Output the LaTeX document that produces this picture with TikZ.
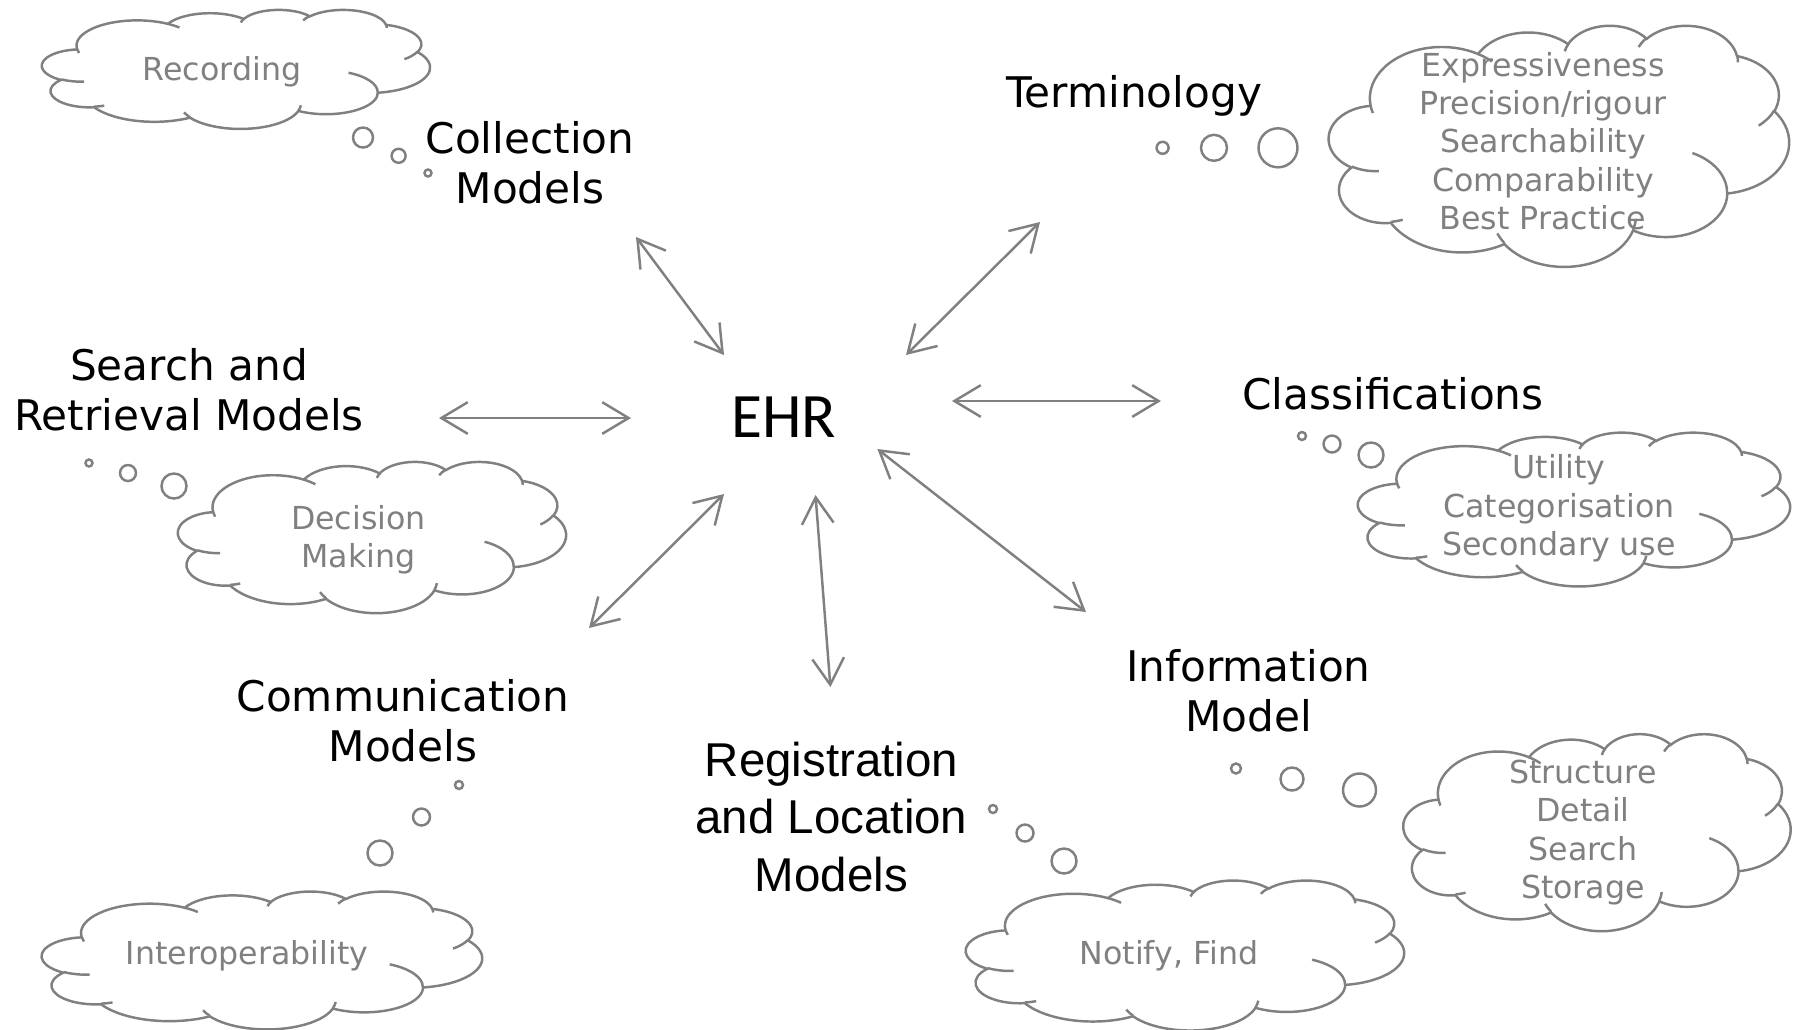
\documentclass[tikz,border=0pt]{standalone}
\usepackage{fontspec}
\setmainfont{DejaVu Sans}
\newfontfamily\arialfont{Liberation Sans}
\newfontfamily\calibrifont{Carlito}
\usetikzlibrary{arrows.meta}

\definecolor{cloudgray}{RGB}{128,128,128}

\tikzset{
	topic/.style={font=\fontsize{12}{14.3}\selectfont, align=center, inner sep=0pt},
	idea/.style={font=\fontsize{9}{10.9}\selectfont, align=center, text=cloudgray, inner sep=0pt},
	bubble/.style={draw=cloudgray, line width=0.7pt},
	link/.style={draw=cloudgray, line width=0.7pt,
		{Straight Barb[length=7.5pt,width=9pt]}-{Straight Barb[length=7.5pt,width=9pt]}},
	pics/thoughtcloud/.style={code={
		\begin{scope}[shift={(-21.6,-21.6)}, color=cloudgray, line width=0.7pt]
		% outline
		\draw (3.900,14.370)
		\foreach \w/\h/\s/\d [evaluate=\s as \ts using {atan2(\w*sin(\s),\h*cos(\s))},
			evaluate=\s as \te using {atan2(\w*sin(\s+\d),\h*cos(\s+\d))},
			evaluate=\s as \dt using {mod(\te-\ts+720,360)}] in
		{6.753/9.190/-190.4875/123.7805, 5.333/7.267/-144.1024/89.9452,
		 4.365/5.945/-145.8079/99.7230, 4.857/6.595/-130.9861/117.2417,
		 5.333/7.273/-78.7089/109.0269, 6.775/9.220/-46.2673/130.2690,
		 5.785/7.867/0.6250/114.0333, 6.752/9.215/22.4516/115.1726,
		 7.720/10.543/66.2426/75.7110, 4.360/5.918/-274.9421/146.7356,
		 4.345/5.945/-246.8285/152.5189}
		{ arc[x radius=\w, y radius=\h, start angle=\ts, delta angle=\dt] } -- cycle;
		% inner arcs
		\foreach \px/\py/\w/\h/\s/\d [evaluate=\s as \ts using {atan2(\w*sin(\s),\h*cos(\s))},
			evaluate=\s as \te using {atan2(\w*sin(\s+\d),\h*cos(\s+\d))},
			evaluate=\s as \dt using {mod(\te-\ts+720,360)}] in
		{4.693/26.177/4.345/5.945/86.7420/26.4295, 6.928/34.899/4.360/5.918/73.6105/11.4475,
		 16.478/39.090/6.752/9.215/137.6242/14.0811, 28.827/34.751/6.752/9.215/6.4533/15.9984,
		 34.129/22.954/5.785/7.867/-70.2924/70.9174, 41.798/15.354/5.333/7.273/30.3180/27.7515,
		 38.324/5.426/4.857/6.595/-13.7443/14.8589, 29.078/3.952/4.857/6.595/-149.1815/18.1954,
		 22.141/4.720/4.365/5.945/-163.4943/17.6864, 14.000/5.192/6.753/9.190/-66.7070/12.3194,
		 4.127/15.789/6.753/9.190/157.6544/11.8539}
		\draw (\px,\py) arc[x radius=\w, y radius=\h, start angle=\ts, delta angle=\dt];
		\end{scope}
	}}
}

\begin{document}
\begin{tikzpicture}[x=0.01cm, y=-0.01cm]
	\useasboundingbox (0,0) rectangle (1796,1029);
	
	% clouds
	\pic[xscale=8.98, yscale=2.755] at (236,69) {thoughtcloud};
	\pic[xscale=10.65, yscale=5.58] at (1559,145.5) {thoughtcloud};
	\pic[xscale=8.98, yscale=3.50] at (372,537) {thoughtcloud};
	\pic[xscale=10.0, yscale=3.56] at (1574,509) {thoughtcloud};
	\pic[xscale=10.19, yscale=3.19] at (262,960) {thoughtcloud};
	\pic[xscale=10.14, yscale=3.47] at (1185,955) {thoughtcloud};
	\pic[xscale=8.96, yscale=4.56] at (1597,832) {thoughtcloud};
	
	% cloud texts
	\node[idea] (rec) at (222,71.5) {Recording};
	\node[idea] (termidea) at (1543,141) {Expressiveness\\Precision/rigour\\Searchability\\Comparability\\Best Practice};
	\node[idea] (dec) at (358.5,539.5) {Decision\\Making};
	\node[idea] (util) at (1559,508.5) {Utility\\Categorisation\\Secondary use};
	\node[idea] (interop) at (247,955.5) {Interoperability};
	\node[idea] (notify) at (1169,955.5) {Notify, Find};
	\node[idea] (struct) at (1583,832.5) {Structure\\Detail\\Search\\Storage};
	
	% bubbles
	\draw[bubble] (363,137.5) circle[radius=10] (398.6,155.8) circle[radius=7] (428,173) circle[radius=3.5];
	\draw[bubble] (1162.6,147.8) circle[radius=6] (1214,147.8) circle[radius=13] (1278,147.8) circle[radius=19.5];
	\draw[bubble] (89,463) circle[radius=3.5] (128,473) circle[radius=8] (174,486) circle[radius=12.5];
	\draw[bubble] (1302,436) circle[radius=4] (1332,444) circle[radius=8.5] (1371,455) circle[radius=12.5];
	\draw[bubble] (459,785) circle[radius=4] (421.5,817) circle[radius=8.5] (380,853) circle[radius=12.5];
	\draw[bubble] (993,809) circle[radius=4] (1025,833) circle[radius=8.5] (1064,861) circle[radius=12.5];
	\draw[bubble] (1236,768.5) circle[radius=5] (1292,779) circle[radius=11.5] (1359.5,790) circle[radius=16.5];
	
	% topics
	\node[topic, font=\calibrifont\fontsize{18}{20}\selectfont] (ehr) at (783.5,417) {EHR};
	\node[topic] (coll) at (530,163) {Collection\\Models};
	\node[topic] (term) at (1134,96) {Terminology};
	\node[topic] (search) at (189,389.5) {Search and\\Retrieval Models};
	\node[topic] (class) at (1393,394) {Classifications};
	\node[topic] (comm) at (403,721) {Communication\\Models};
	\node[topic, font=\arialfont\fontsize{13.5}{16.3}\selectfont] (reg) at (831.5,817) {Registration\\and Location\\Models};
	\node[topic] (info) at (1248.5,691) {Information\\Model};
	
	% arrow ends
	\coordinate (coll-a) at (636,237);
	\coordinate (coll-b) at (724,355);
	\coordinate (term-a) at (1040,222);
	\coordinate (term-b) at (906,355);
	\coordinate (search-a) at (439,418);
	\coordinate (search-b) at (631,418);
	\coordinate (class-a) at (1161,401);
	\coordinate (class-b) at (952,401);
	\coordinate (comm-a) at (589,628);
	\coordinate (comm-b) at (724,494);
	\coordinate (reg-a) at (830.4,687);
	\coordinate (reg-b) at (815.5,495);
	\coordinate (info-a) at (1086,612);
	\coordinate (info-b) at (877.4,449);
	
	\path
	(coll-a) edge[link] (coll-b)
	(term-a) edge[link] (term-b)
	(search-a) edge[link] (search-b)
	(class-a) edge[link] (class-b)
	(comm-a) edge[link] (comm-b)
	(reg-a) edge[link] (reg-b)
	(info-a) edge[link] (info-b);
\end{tikzpicture}
\end{document}
